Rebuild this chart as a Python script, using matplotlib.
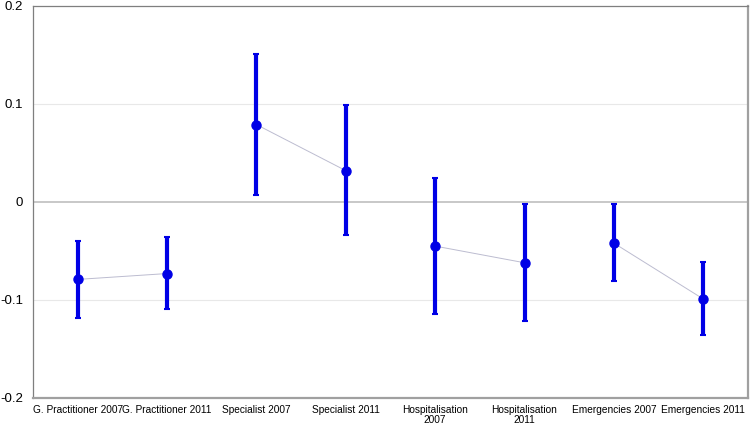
import numpy as np
import matplotlib
matplotlib.use('Agg')
import matplotlib.pyplot as plt

plt.rcParams['font.family'] = ['Liberation Sans', 'DejaVu Sans']

labels = ['G. Practitioner 2007', 'G. Practitioner 2011', 'Specialist 2007', 'Specialist 2011',
          'Hospitalisation\n2007', 'Hospitalisation\n2011', 'Emergencies 2007', 'Emergencies 2011']
est = [-0.079, -0.073, 0.079, 0.032, -0.045, -0.062, -0.042, -0.099]
upper = [-0.040, -0.036, 0.151, 0.099, 0.024, -0.002, -0.002, -0.061]
lower = [-0.118, -0.109, 0.007, -0.034, -0.114, -0.121, -0.081, -0.136]
yticks = [-0.2, -0.1, 0, 0.1, 0.2]
yticklabels = ['-0.2', '-0.1', '0', '0.1', '0.2']

x = np.arange(len(labels))
est = np.array(est)
err = [est - np.array(lower), np.array(upper) - est]

fig = plt.figure(figsize=(7.5, 4.26), dpi=100)
ax = fig.add_axes([33/750, 28/426, 715/750, 392/426])

# light gridlines and zero line
for y in [-0.1, 0.1]:
    ax.axhline(y, color='#e8e8e8', lw=0.8, zorder=0)
ax.axhline(0, color='#bfbfbf', lw=1.2, zorder=1)

# thin lines joining each 2007/2011 pair
for i in range(0, len(labels), 2):
    ax.plot(x[i:i+2], est[i:i+2], color='#bcbcd0', lw=0.7, zorder=2)

ax.errorbar(x, est, yerr=err, fmt='o', color='#0000e6', ms=6.5, elinewidth=3,
            capsize=2.5, capthick=1.5, zorder=3)

ax.set_xlim(-0.5, len(labels) - 0.5)
ax.set_ylim(-0.2, 0.2)
ax.set_yticks(yticks)
ax.set_yticklabels(yticklabels, fontsize=9.5)
ax.set_xticks(x)
ax.set_xticklabels(labels, fontsize=7.3, linespacing=1.0)
ax.tick_params(axis='both', length=0)
ax.tick_params(axis='y', pad=7)
ax.tick_params(axis='x', pad=5)

for side in ['left', 'top']:
    ax.spines[side].set_color('#7f7f7f')
    ax.spines[side].set_linewidth(0.9)
for side in ['right', 'bottom']:
    ax.spines[side].set_color('#a0a0a0')
    ax.spines[side].set_linewidth(1.6)

fig.savefig('out.png', dpi=100)
